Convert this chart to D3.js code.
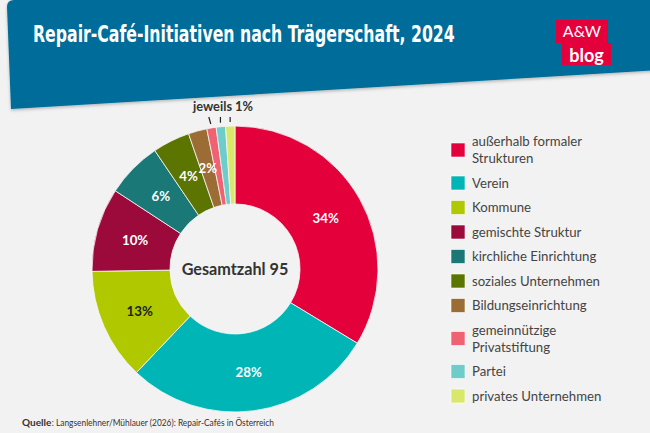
<!DOCTYPE html>
<html>
<head>
<meta charset="utf-8">
<script src="https://cdn.jsdelivr.net/npm/d3@7"></script>
<style>
  html, body { margin: 0; padding: 0; background: #f2f2f2; }
  svg { display: block; }
</style>
</head>
<body>
<svg id="chart" width="650" height="433"></svg>
<script>
// ---- data ----
const categories = [
  "außerhalb formaler\nStrukturen",
  "Verein",
  "Kommune",
  "gemischte Struktur",
  "kirchliche Einrichtung",
  "soziales Unternehmen",
  "Bildungseinrichtung",
  "gemeinnützige\nPrivatstiftung",
  "Partei",
  "privates Unternehmen"
];
const counts = [32, 27, 12, 9, 6, 4, 2, 1, 1, 1];
const percentLabels = ["34%", "28%", "13%", "10%", "6%", "4%", "2%", "", "", ""];
const colors = ["#e4003a", "#00b5b5", "#afc800", "#9c0a3c", "#1a7876",
                "#5c7400", "#9c6c35", "#ef6272", "#6ecdcb", "#d9e86a"];
const labelColors = ["#fff", "#fff", "#222", "#fff", "#fff", "#fff", "#fff", "#fff", "#fff", "#fff"];
const title = "Repair-Café-Initiativen nach Trägerschaft, 2024";
const centerText = "Gesamtzahl 95";
const smallNote = "jeweils 1%";
const sourceBold = "Quelle";
const sourceText = ": Langsenlehner/Mühlauer (2026): Repair-Cafés in Österreich";

const svg = d3.select("#chart");
const W = 650, H = 433;
const FONT = "Lato, 'Open Sans', sans-serif";

svg.append("rect").attr("width", W).attr("height", H).attr("fill", "#f2f2f2");

// ---- header band ----
const defs = svg.append("defs");
const f = defs.append("filter").attr("id", "shadow").attr("x", "-5%").attr("y", "-5%").attr("width", "110%").attr("height", "120%");
f.append("feDropShadow").attr("dx", 0).attr("dy", 1.5).attr("stdDeviation", 1.5).attr("flood-color", "#000").attr("flood-opacity", 0.25);

const hp = d3.path();
hp.moveTo(14, 0);
hp.lineTo(660, 0);
hp.lineTo(660, 70);
hp.lineTo(11, 109);
hp.lineTo(7, 7);
hp.quadraticCurveTo(7, 0, 14, 0);
hp.closePath();
svg.append("path").attr("d", hp.toString()).attr("fill", "#046c99").attr("filter", "url(#shadow)");

// title: condensed by a horizontal scale so that its box really ends where the glyphs end
const titleG = svg.append("g");
const titleT = titleG.append("text")
  .attr("x", 0).attr("y", 0)
  .attr("fill", "#fff")
  .attr("font-family", "'Liberation Sans Narrow', 'DejaVu Sans Condensed', sans-serif")
  .attr("font-weight", "bold")
  .attr("font-size", 22.5)
  .text(title);
const tw = titleT.node().getComputedTextLength();
titleG.attr("transform", `translate(33,42) scale(${422 / tw},1)`);

// logo
const logo = svg.append("g");
logo.append("rect").attr("x", 556).attr("y", 20).attr("width", 52).attr("height", 23).attr("fill", "#e4003a");
logo.append("rect").attr("x", 562).attr("y", 43).attr("width", 49).attr("height", 22).attr("fill", "#e4003a");
logo.append("text").attr("x", 582).attr("y", 37).attr("text-anchor", "middle")
  .attr("fill", "#fff").attr("font-family", FONT).attr("font-size", 16).text("A&W");
logo.append("text").attr("x", 586.5).attr("y", 61.5).attr("text-anchor", "middle")
  .attr("fill", "#fff").attr("font-family", FONT).attr("font-weight", "bold").attr("font-size", 18).text("blog");

// ---- donut ----
const cx = 235, cy = 269, rOuter = 143, rInner = 65;
const data = categories.map((c, i) => ({ name: c, value: counts[i], color: colors[i], label: percentLabels[i], lc: labelColors[i] }));
const pie = d3.pie().value(d => d.value).sort(null);
const arcs = pie(data);
const arc = d3.arc().innerRadius(rInner).outerRadius(rOuter);
const g = svg.append("g").attr("transform", `translate(${cx},${cy})`);

g.selectAll("path.slice").data(arcs).join("path")
  .attr("class", "slice")
  .attr("d", arc)
  .attr("fill", d => d.data.color)
  .attr("stroke", "#f7f7f7")
  .attr("stroke-width", 0.8);

g.selectAll("text.pct").data(arcs.filter(d => d.data.label)).join("text")
  .attr("class", "pct")
  .attr("transform", d => `translate(${arc.centroid(d)})`)
  .attr("text-anchor", "middle")
  .attr("dy", "0.36em")
  .attr("fill", d => d.data.lc)
  .attr("font-family", FONT)
  .attr("font-weight", "bold")
  .attr("font-size", 13.3)
  .text(d => d.data.label);

g.append("text")
  .attr("text-anchor", "middle").attr("dy", "0.36em")
  .attr("fill", "#333")
  .attr("font-family", FONT)
  .attr("font-weight", "bold")
  .attr("font-size", 16.2)
  .text(centerText);

// leader lines for the 1% slices
const small = arcs.filter(d => !d.data.label);
const slant = [-2, 0, 0];
small.forEach((d, i) => {
  const a = (d.startAngle + d.endAngle) / 2;
  const r = rOuter + 4;
  const x1 = Math.sin(a) * r, y1 = -Math.cos(a) * r;
  g.append("line")
    .attr("x1", x1).attr("y1", y1)
    .attr("x2", x1 + slant[i]).attr("y2", 117 - cy)
    .attr("stroke", "#222").attr("stroke-width", 1.2);
});
svg.append("text")
  .attr("x", 223).attr("y", 111).attr("text-anchor", "middle")
  .attr("fill", "#333")
  .attr("font-family", FONT)
  .attr("font-weight", "bold")
  .attr("font-size", 12.8)
  .text(smallNote);

// ---- legend ----
const legend = svg.append("g");
let yc = 150, prevLines = 0;
data.forEach((d, i) => {
  const lines = d.name.split("\n");
  if (i > 0) yc += 24.5 + 8.5 * (prevLines - 1) + 8.5 * (lines.length - 1);
  prevLines = lines.length;
  legend.append("rect").attr("x", 451).attr("y", yc - 7).attr("width", 14).attr("height", 14)
    .attr("fill", d.color).attr("stroke", "#fff").attr("stroke-width", 0.6);
  const t = legend.append("text")
    .attr("x", 472).attr("y", yc - (lines.length - 1) * 8.5)
    .attr("fill", "#444")
    .attr("font-family", FONT)
    .attr("font-size", 13.2);
  lines.forEach((l, j) => {
    t.append("tspan").attr("x", 472).attr("dy", j === 0 ? "0.36em" : 17).text(l);
  });
});

// ---- source ----
const q = svg.append("text").attr("x", 22).attr("y", 426)
  .attr("fill", "#333").attr("font-family", FONT).attr("font-weight", "bold")
  .attr("font-size", 10).text(sourceBold);
const qw = q.node().getComputedTextLength();
svg.append("text").attr("x", 22 + qw + 0.5).attr("y", 426)
  .attr("fill", "#333").attr("font-family", FONT)
  .attr("font-size", 10)
  .attr("textLength", 252 - qw - 0.5)
  .attr("lengthAdjust", "spacingAndGlyphs")
  .text(sourceText);
</script>
</body>
</html>
